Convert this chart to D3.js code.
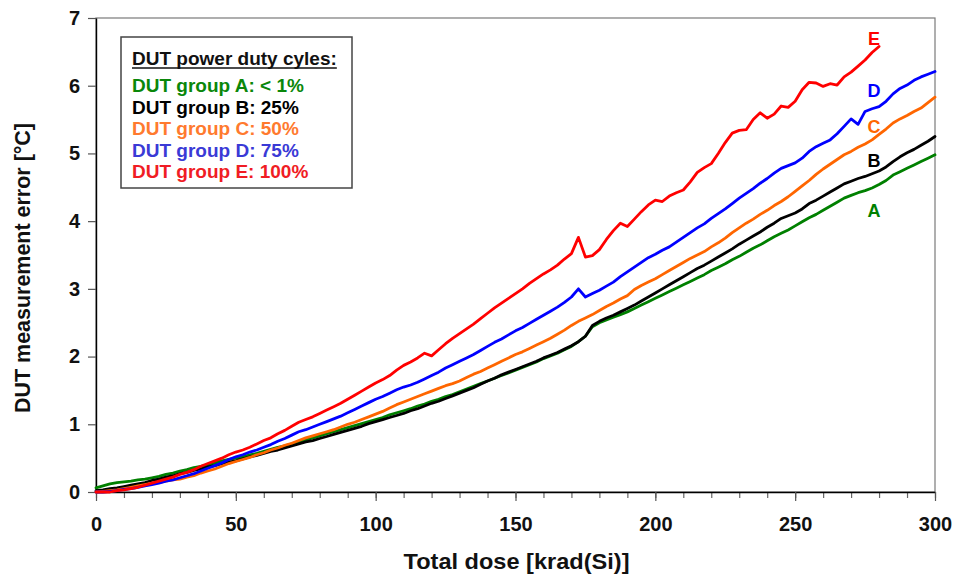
<!DOCTYPE html>
<html><head><meta charset="utf-8">
<script src="https://cdn.jsdelivr.net/npm/d3@7/dist/d3.min.js"></script>
<style>
html,body{margin:0;padding:0;background:#fff;}
svg{display:block;font-family:Arial,"Liberation Sans",Helvetica,sans-serif;}
</style></head><body>
<svg id="chart" width="955" height="575"></svg>
<script>
// Total dose sampling grid, krad(Si)
const dose = d3.range(0, 300.001, 2.5);

// Measurement error [°C] per DUT group, one value per dose step
const groupA = [0.06,0.09,0.12,0.14,0.15,0.16,0.18,0.19,0.21,0.23,0.26,0.28,0.31,0.33,0.36,0.38,0.40,0.43,0.46,0.48,
  0.50,0.52,0.55,0.57,0.60,0.63,0.66,0.68,0.71,0.74,0.77,0.80,0.83,0.86,0.89,0.92,0.95,0.98,1.01,1.04,
  1.07,1.10,1.14,1.17,1.20,1.23,1.27,1.30,1.34,1.37,1.41,1.44,1.48,1.52,1.56,1.60,1.64,1.68,1.72,1.76,
  1.80,1.84,1.88,1.92,1.97,2.01,2.05,2.10,2.15,2.22,2.30,2.44,2.50,2.54,2.58,2.62,2.66,2.71,2.76,2.81,
  2.86,2.91,2.96,3.01,3.06,3.11,3.16,3.21,3.27,3.32,3.37,3.43,3.48,3.54,3.60,3.65,3.71,3.77,3.82,3.87,
  3.93,3.99,4.05,4.10,4.16,4.22,4.28,4.34,4.38,4.42,4.45,4.49,4.54,4.60,4.68,4.73,4.78,4.83,4.88,4.93,4.98];
const groupB = [0.02,0.03,0.05,0.06,0.08,0.10,0.12,0.14,0.17,0.19,0.22,0.24,0.27,0.29,0.32,0.34,0.37,0.39,0.42,0.44,
  0.46,0.49,0.52,0.54,0.57,0.60,0.62,0.65,0.68,0.71,0.74,0.76,0.79,0.82,0.85,0.88,0.91,0.94,0.97,1.01,
  1.04,1.07,1.10,1.13,1.16,1.20,1.23,1.27,1.31,1.34,1.38,1.42,1.46,1.50,1.54,1.59,1.64,1.68,1.73,1.77,
  1.81,1.85,1.89,1.93,1.98,2.02,2.06,2.11,2.16,2.22,2.30,2.46,2.52,2.57,2.61,2.66,2.71,2.76,2.82,2.88,
  2.94,3.00,3.06,3.12,3.18,3.24,3.30,3.35,3.41,3.47,3.53,3.59,3.66,3.72,3.78,3.84,3.91,3.97,4.04,4.08,
  4.12,4.18,4.26,4.31,4.37,4.43,4.49,4.55,4.59,4.63,4.66,4.70,4.74,4.80,4.88,4.95,5.01,5.06,5.12,5.18,5.25];
const groupC = [0.00,0.01,0.02,0.03,0.05,0.07,0.09,0.11,0.13,0.14,0.16,0.18,0.19,0.22,0.24,0.28,0.31,0.34,0.38,0.42,
  0.45,0.48,0.51,0.55,0.58,0.62,0.65,0.69,0.72,0.76,0.80,0.83,0.86,0.89,0.92,0.96,1.00,1.03,1.07,1.11,
  1.15,1.19,1.24,1.29,1.33,1.37,1.41,1.45,1.49,1.53,1.57,1.60,1.64,1.69,1.74,1.78,1.83,1.88,1.93,1.98,
  2.03,2.07,2.12,2.17,2.22,2.27,2.33,2.39,2.46,2.52,2.57,2.62,2.68,2.74,2.79,2.85,2.90,2.99,3.05,3.10,
  3.15,3.21,3.27,3.33,3.39,3.45,3.50,3.55,3.62,3.68,3.75,3.83,3.90,3.97,4.03,4.10,4.16,4.23,4.29,4.36,
  4.44,4.52,4.60,4.69,4.77,4.84,4.91,4.98,5.03,5.09,5.14,5.20,5.28,5.36,5.45,5.51,5.56,5.62,5.67,5.75,5.83];
const groupD = [0.00,0.00,0.01,0.02,0.04,0.05,0.07,0.09,0.11,0.13,0.16,0.18,0.21,0.24,0.27,0.31,0.35,0.39,0.43,0.48,
  0.52,0.55,0.59,0.62,0.66,0.70,0.75,0.79,0.84,0.89,0.92,0.96,1.00,1.04,1.08,1.12,1.17,1.22,1.27,1.32,
  1.37,1.41,1.46,1.51,1.55,1.58,1.62,1.67,1.72,1.77,1.83,1.88,1.93,1.98,2.03,2.09,2.15,2.21,2.26,2.32,
  2.38,2.43,2.49,2.55,2.61,2.67,2.73,2.80,2.88,3.00,2.88,2.93,2.98,3.04,3.10,3.18,3.25,3.32,3.39,3.46,
  3.51,3.57,3.62,3.69,3.76,3.83,3.90,3.96,4.04,4.11,4.18,4.26,4.34,4.41,4.48,4.56,4.63,4.71,4.78,4.82,
  4.86,4.93,5.03,5.10,5.15,5.20,5.29,5.40,5.51,5.43,5.62,5.66,5.69,5.77,5.88,5.96,6.01,6.08,6.13,6.17,6.21];
// group E was logged up to 280 krad(Si)
const groupE = [0.00,0.00,0.00,0.02,0.03,0.05,0.07,0.10,0.13,0.16,0.19,0.22,0.26,0.29,0.33,0.38,0.42,0.46,0.50,0.55,
  0.59,0.62,0.66,0.71,0.76,0.80,0.86,0.91,0.97,1.03,1.07,1.11,1.16,1.21,1.26,1.31,1.37,1.43,1.49,1.55,
  1.61,1.66,1.72,1.80,1.87,1.92,1.98,2.05,2.01,2.10,2.19,2.27,2.34,2.41,2.48,2.56,2.64,2.72,2.79,2.86,
  2.93,3.00,3.08,3.15,3.22,3.28,3.35,3.44,3.52,3.76,3.47,3.49,3.58,3.73,3.86,3.97,3.92,4.03,4.14,4.24,
  4.31,4.29,4.37,4.42,4.46,4.58,4.72,4.79,4.85,5.00,5.16,5.30,5.34,5.35,5.50,5.60,5.52,5.58,5.70,5.68,
  5.77,5.94,6.05,6.04,5.99,6.03,6.01,6.13,6.20,6.29,6.38,6.49,6.58];

const seriesValues = [groupA, groupB, groupC, groupD, groupE];
const seriesKeys = ["A", "B", "C", "D", "E"];
const seriesColors = ["#008000", "#000000", "#ff6600", "#0000ff", "#ff0000"];
const legendColors = ["#0a870a", "#000000", "#ff7a2e", "#3a3ad6", "#f01c24"];
const legendTitle = "DUT power duty cyles:";
const legendLabels = ["DUT group A: < 1%", "DUT group B: 25%", "DUT group C: 50%", "DUT group D: 75%", "DUT group E: 100%"];
const xMajorTicks = [0, 50, 100, 150, 200, 250, 300];
const xMinorTicks = d3.range(0, 301, 10);
const yTicks = [0, 1, 2, 3, 4, 5, 6, 7];
const xTitle = "Total dose [krad(Si)]";
const yTitle = "DUT measurement error [°C]";

const svg = d3.select("#chart");
const plot = {left: 96, right: 935, top: 18, bottom: 492};

const x = d3.scaleLinear().domain([0, 300]).range([plot.left, plot.right]);
const y = d3.scaleLinear().domain([0, 7]).range([plot.bottom, plot.top]);

// plot frame (top / right edges)
svg.append("rect")
  .attr("x", plot.left).attr("y", plot.top)
  .attr("width", plot.right - plot.left).attr("height", plot.bottom - plot.top)
  .attr("fill", "none").attr("stroke", "#7a7a7a").attr("stroke-width", 1.2);

// x axis: minor ticks every 10, labelled majors every 50
const gxMinor = svg.append("g").attr("transform", `translate(0,${plot.bottom})`)
  .call(d3.axisBottom(x).tickValues(xMinorTicks).tickSize(6).tickSizeOuter(0).tickFormat(""));
gxMinor.select(".domain").remove();
gxMinor.selectAll(".tick line").attr("stroke", "#666").attr("stroke-width", 1.2);

const gx = svg.append("g").attr("transform", `translate(0,${plot.bottom})`)
  .call(d3.axisBottom(x).tickValues(xMajorTicks).tickSize(9).tickSizeOuter(0).tickPadding(16).tickFormat(d3.format("d")));
gx.select(".domain").attr("stroke", "#000").attr("stroke-width", 1.4);
gx.selectAll(".tick line").attr("stroke", "#555").attr("stroke-width", 1.2);
gx.selectAll(".tick text").attr("font-size", 20).attr("font-weight", "bold")
  .attr("fill", "#111").attr("font-family", "Arial, 'Liberation Sans', sans-serif");

const gy = svg.append("g").attr("transform", `translate(${plot.left},0)`)
  .call(d3.axisLeft(y).tickValues(yTicks).tickSize(8).tickSizeOuter(0).tickPadding(8).tickFormat(d3.format("d")));
gy.select(".domain").attr("stroke", "#000").attr("stroke-width", 1.4);
gy.selectAll(".tick line").attr("stroke", "#555").attr("stroke-width", 1.2);
gy.selectAll(".tick text").attr("font-size", 20).attr("font-weight", "bold")
  .attr("fill", "#111").attr("font-family", "Arial, 'Liberation Sans', sans-serif");

// axis titles
svg.append("text")
  .attr("x", (plot.left + plot.right) / 2 + 1).attr("y", 569)
  .attr("text-anchor", "middle").attr("font-size", 22).attr("font-weight", "bold").attr("fill", "#111")
  .attr("textLength", 226).attr("lengthAdjust", "spacingAndGlyphs")
  .text(xTitle);
svg.append("text")
  .attr("transform", "translate(30,268) rotate(-90)")
  .attr("text-anchor", "middle").attr("font-size", 22).attr("font-weight", "bold").attr("fill", "#111")
  .attr("textLength", 290).attr("lengthAdjust", "spacingAndGlyphs")
  .text(yTitle);

// data lines
const line = d3.line()
  .x((d, i) => x(dose[i]))
  .y(d => y(d));

svg.append("g").selectAll("path")
  .data(seriesValues)
  .join("path")
  .attr("d", line)
  .attr("fill", "none")
  .attr("stroke", (d, i) => seriesColors[i])
  .attr("stroke-width", 2.8)
  .attr("stroke-linejoin", "round")
  .attr("stroke-linecap", "round");

// line end labels
const endLabelY = {A: 217, B: 167, C: 133, D: 97, E: 45};
svg.append("g").selectAll("text")
  .data(seriesKeys)
  .join("text")
  .attr("x", 874).attr("y", k => endLabelY[k])
  .attr("text-anchor", "middle").attr("font-size", 18).attr("font-weight", "bold")
  .attr("fill", (k, i) => seriesColors[i])
  .text(k => k);

// legend box
const legend = svg.append("g");
legend.append("rect")
  .attr("x", 121).attr("y", 37).attr("width", 231).attr("height", 151)
  .attr("fill", "#fff").attr("stroke", "#444").attr("stroke-width", 1.5);
const head = legend.append("text")
  .attr("x", 132).attr("y", 65)
  .attr("font-size", 19).attr("font-weight", "bold").attr("fill", "#111")
  .text(legendTitle);
const headW = head.node().getComputedTextLength();
legend.append("line")
  .attr("x1", 132).attr("x2", 132 + headW).attr("y1", 68).attr("y2", 68)
  .attr("stroke", "#111").attr("stroke-width", 1.6);
legend.selectAll("text.entry")
  .data(legendLabels)
  .join("text")
  .attr("class", "entry")
  .attr("x", 132).attr("y", (d, i) => 92 + i * 21.6)
  .attr("font-size", 19).attr("font-weight", "bold")
  .attr("fill", (d, i) => legendColors[i])
  .text(d => d);
</script>
</body></html>
